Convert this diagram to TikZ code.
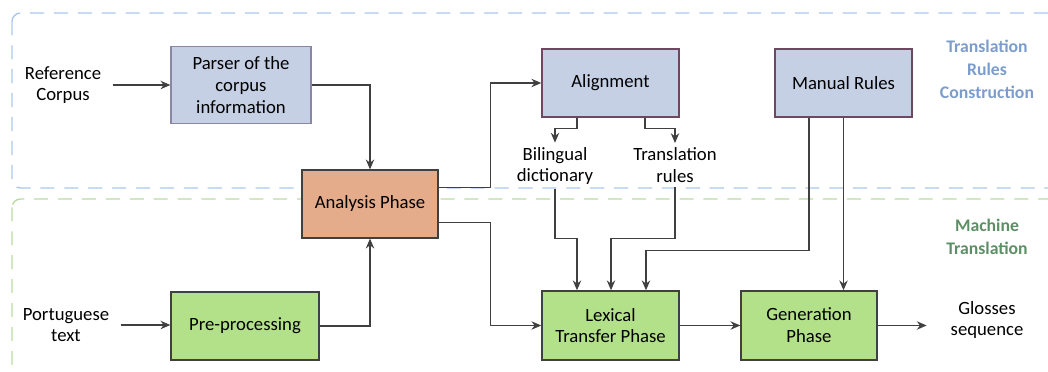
\documentclass[tikz,border=0pt]{standalone}
\usepackage{fontspec}
\setmainfont{Carlito}
\usetikzlibrary{arrows.meta,calc}
\definecolor{boxblue}{HTML}{C5D0E4}
\definecolor{boxorange}{HTML}{E5AC8B}
\definecolor{boxgreen}{HTML}{B3E18A}
\definecolor{lineblue}{HTML}{ABC6EE}
\definecolor{linegreen}{HTML}{B9DCA2}
\definecolor{labelblue}{HTML}{7C9DCB}
\definecolor{labelgreen}{HTML}{5D8F66}
\definecolor{edgeplum}{HTML}{6E4860}
\definecolor{edgegray}{HTML}{8A87A6}
\begin{document}
\begin{tikzpicture}[x=0.025cm,y=-0.025cm,
  every node/.style={font=\fontsize{13.3}{15.5}\selectfont},
  blk/.style={draw=black!75,line width=0.9pt,minimum width=3.4cm,minimum height=1.7cm,align=center,inner sep=2pt},
  txt/.style={align=center,inner sep=8pt},
  lbl/.style={align=center,font=\fontsize{12.6}{16.3}\selectfont\bfseries},
  arr/.style={-{Stealth[length=7pt,width=6pt]},draw=black!75,line width=0.8pt},
  region/.style={dashed,dash pattern=on 10pt off 7pt,line width=1pt,rounded corners=6pt}]
\useasboundingbox (0,0) rectangle (1048,372);
\clip (0,0) rectangle (1048,372);
% the two dashed regions
\draw[region,lineblue] (12,13) rectangle (1070,188);
\draw[region,linegreen] (12,199) rectangle (1070,400);
\node[lbl,labelblue] (trc) at (987,69) {Translation\\Rules\\Construction};
\node[lbl,labelgreen] (mt) at (987,237) {Machine\\Translation};
% rule construction part
\node[txt] (refc) at (63,85) {Reference\\Corpus};
\node[blk,fill=boxblue,draw=edgegray,minimum width=3.5cm,minimum height=1.93cm] (parser) at (241,85) {Parser of the\\corpus\\information};
\node[blk,fill=boxorange] (ana) at (370,204) {Analysis Phase};
\node[blk,fill=boxblue,draw=edgeplum,minimum width=3.43cm] (align) at (610.5,83) {Alignment};
\node[blk,fill=boxblue,draw=edgeplum,minimum width=3.43cm] (manual) at (843.5,83) {Manual Rules};
\node[align=center,inner sep=3pt] (bdict) at (555,166) {Bilingual\\dictionary};
\node[align=center,inner sep=3pt] (trules) at (675,165) {Translation\\rules};
% machine translation part
\node[txt] (port) at (66,325) {Portuguese\\text};
\node[blk,fill=boxgreen,minimum width=3.7cm] (pre) at (245,326) {Pre-processing};
\node[blk,fill=boxgreen,minimum width=3.43cm,minimum height=1.73cm] (lex) at (610.5,325.5) {Lexical\\Transfer Phase};
\node[blk,fill=boxgreen,minimum height=1.73cm] (gen) at (809,325.5) {Generation\\Phase};
\node[align=center] (gloss) at (987,320) {Glosses\\sequence};
\coordinate (gout) at ($(gen.east)+(49,0)$);
\coordinate (lin1) at ($(lex.north)+(-33.5,0)$);
\coordinate (lin2) at ($(lex.north)+(0.5,0)$);
\coordinate (lin3) at ($(lex.north)+(35.5,0)$);
% connectors
\draw[arr] (refc.east) -- (refc.east -| parser.west);
\draw[arr] (parser.east) -| (ana.north);
\draw[arr] ($(ana.north east)+(0,18)$) -- ++(52,0) |- (align.west);
\draw[arr] ($(align.south)+(-33.5,0)$) -- ++(0,11) -| (bdict.north);
\draw[arr] ($(align.south)+(34.5,0)$) -- ++(0,11) -| (trules.north);
\draw[arr] (bdict.south) |- ($(lin1)+(0,-52)$) -- (lin1);
\draw[arr] (trules.south) |- ($(lin2)+(0,-52)$) -- (lin2);
\draw[arr] ($(manual.south)+(-34.5,0)$) |- ($(lin3)+(0,-40)$) -- (lin3);
\draw[arr] (manual.south) -- (manual.south |- gen.north);
\draw[arr] (port.east) -- (port.east -| pre.west);
\draw[arr] (pre.east) -| (ana.south);
\draw[arr] ($(ana.south east)+(0,-16)$) -- ++(52,0) |- (lex.west);
\draw[arr] (lex) -- (gen);
\draw[arr] (gen) -- (gout);
\end{tikzpicture}
\end{document}
